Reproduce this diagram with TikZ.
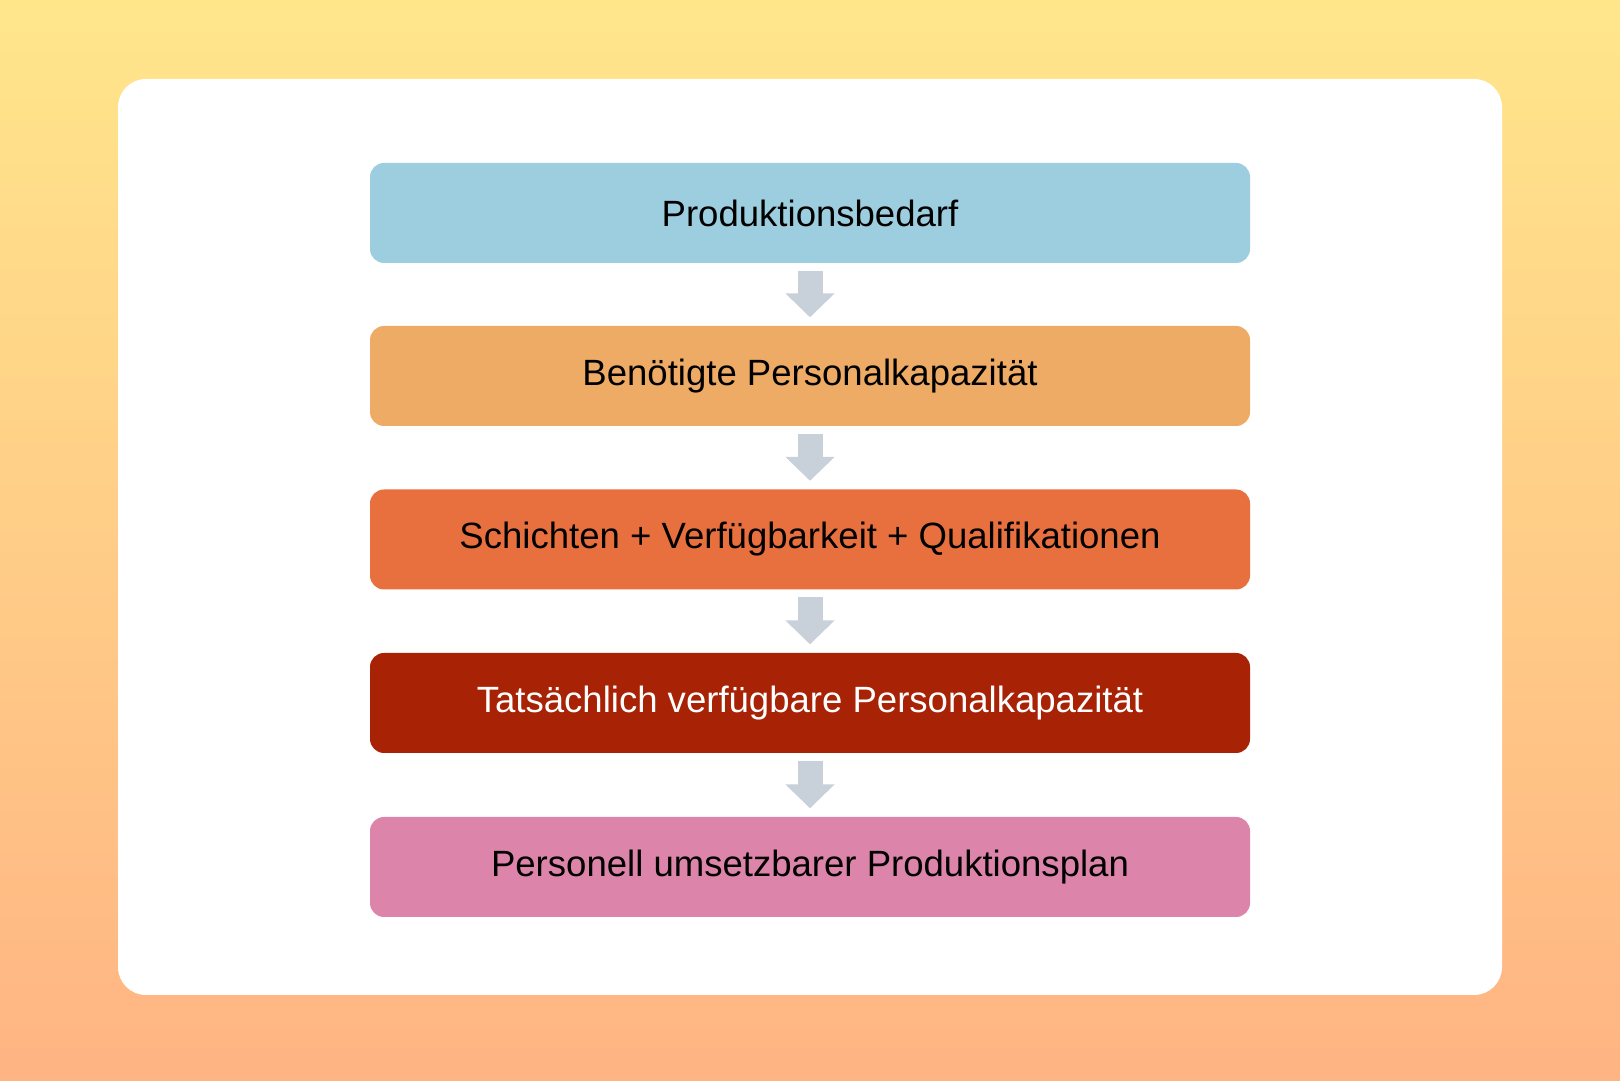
\documentclass[tikz,border=0pt]{standalone}
\usepackage{fontspec}
\setmainfont{Liberation Sans}
\usetikzlibrary{arrows.meta}
\definecolor{bgtop}{HTML}{FFE68B}
\definecolor{bgbottom}{HTML}{FFB483}
\definecolor{stepblue}{HTML}{9DCEE0}
\definecolor{steporange}{HTML}{EEAB66}
\definecolor{stepred}{HTML}{E8703F}
\definecolor{stepdark}{HTML}{A82205}
\definecolor{steppink}{HTML}{DC84AA}
\definecolor{arrowgrey}{HTML}{C8D0DA}

\begin{document}
\begin{tikzpicture}[
	stepbox/.style={rounded corners=0.14cm, minimum width=8.8cm, minimum height=1cm,
		inner sep=0pt, font=\fontsize{10.4}{12}\selectfont, text=black},
	flow/.style={arrowgrey, line width=0.25cm,
		-{Triangle[width=0.48cm, length=0.24cm]},
		shorten <=0.07cm, shorten >=0.08cm}
	]
	\useasboundingbox (0,0) rectangle (16.2,10.8);
	\shade [top color=bgtop, bottom color=bgbottom] (0,0) rectangle (16.2,10.8);
	\fill [white, rounded corners=0.28cm] (1.18,0.85) rectangle (15.02,10.01);
	\node[stepbox, fill=stepblue] (v1) at (8.1,8.67) {Produktionsbedarf};
	\node[stepbox, fill=steporange] (v2) at (8.1,7.04) {Benötigte Personalkapazität};
	\node[stepbox, fill=stepred] (v3) at (8.1,5.405) {Schichten + Verfügbarkeit + Qualifikationen};
	\node[stepbox, fill=stepdark, text=white] (v4) at (8.1,3.77) {Tatsächlich verfügbare Personalkapazität};
	\node[stepbox, fill=steppink] (v5) at (8.1,2.13) {Personell umsetzbarer Produktionsplan};
	\draw [flow] (v1) to (v2);
	\draw [flow] (v2) to (v3);
	\draw [flow] (v3) to (v4);
	\draw [flow] (v4) to (v5);
\end{tikzpicture}
\end{document}
